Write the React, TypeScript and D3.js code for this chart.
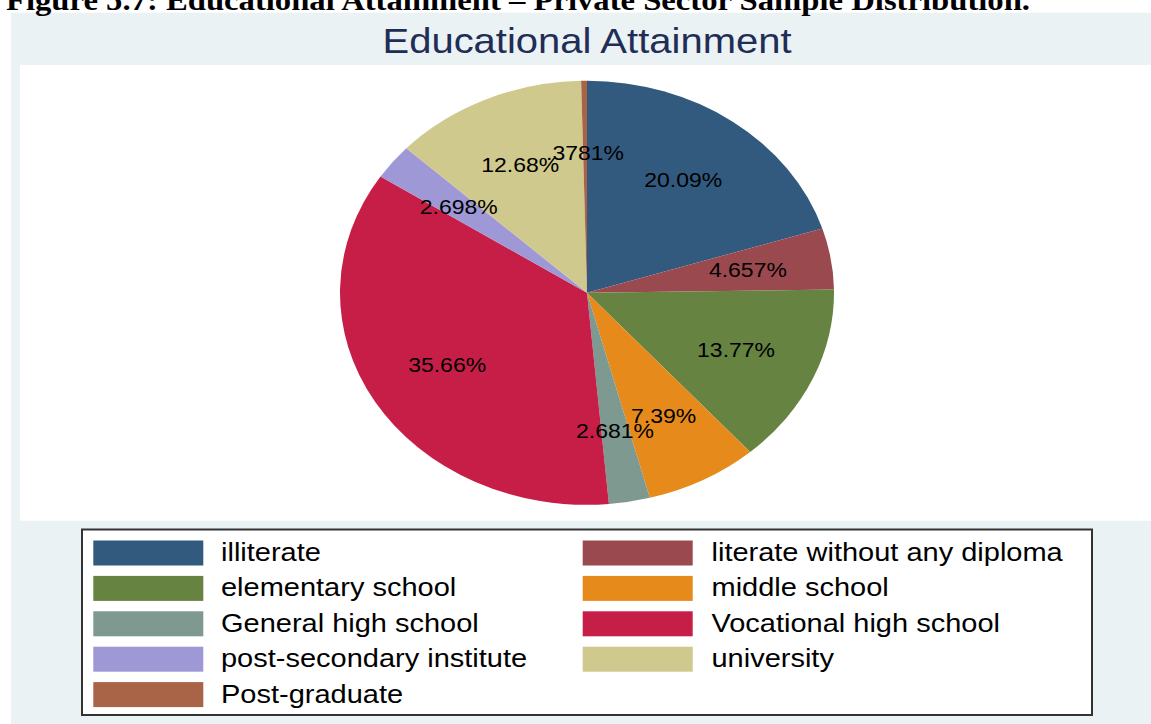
import React from "react";
import * as d3 from "d3";

const categories = [
  "illiterate",
  "literate without any diploma",
  "elementary school",
  "middle school",
  "General high school",
  "Vocational high school",
  "post-secondary institute",
  "university",
  "Post-graduate",
];
const values = [20.09, 4.657, 13.77, 7.39, 2.681, 35.66, 2.698, 12.68, 0.3781];
const labels = ["20.09%", "4.657%", "13.77%", "7.39%", "2.681%", "35.66%", "2.698%", "12.68%", ".3781%"];
const colors = ["#325a7e", "#9a4a4f", "#668342", "#e68a1c", "#7e998f", "#c71e47", "#9e98d6", "#cfc98d", "#a96346"];

const W = 1151;
const H = 724;
const SY = 0.86;
const SANS = "'Liberation Sans', Arial, Helvetica, sans-serif";

export default function App() {
  const cx = 587;
  const cy = 292.8;
  const rx = 247;
  const ry = 212;
  const pie = d3.pie<number>().sort(null).value((d) => d)(values);
  const arc = d3.arc<d3.PieArcDatum<number>>().innerRadius(0).outerRadius(rx);
  const lr = 0.66 * rx;
  const labelArc = d3.arc<d3.PieArcDatum<number>>().innerRadius(lr).outerRadius(lr);

  const legX = [93.3, 582.7];
  const legTextX = [221, 711.5];
  const rowTop = 540.5;
  const rowPitch = 35.4;

  return (
    <svg width={W} height={H} style={{ position: "absolute", left: 0, top: 0 }} xmlns="http://www.w3.org/2000/svg">
      <rect x={0} y={0} width={W} height={H} fill="#ffffff" />
      <rect x={11} y={12.7} width={W - 11} height={H - 12.7} fill="#eaf2f3" />
      <text
        transform={`translate(6,10) scale(1,${SY})`}
        fontFamily="'Liberation Serif', 'Times New Roman', serif"
        fontWeight="bold"
        fontSize={34}
        textLength={1024}
        lengthAdjust="spacingAndGlyphs"
        fill="#000"
      >
        Figure 5.7: Educational Attainment – Private Sector Sample Distribution.
      </text>
      <text
        transform={`translate(587,53) scale(1,${SY})`}
        textAnchor="middle"
        fontFamily={SANS}
        fontSize={40}
        fill="#1f2d57"
      >
        Educational Attainment
      </text>
      <rect x={20} y={65} width={W - 20} height={455.7} fill="#ffffff" />
      <g transform={`translate(${cx},${cy}) scale(1,${ry / rx})`}>
        {pie.map((p, i) => (
          <path key={i} d={arc(p) || ""} fill={colors[i]} />
        ))}
      </g>
      {pie.map((p, i) => {
        const [lx, ly] = labelArc.centroid(p);
        const x = cx + lx;
        const y = cy + ly * (ry / rx);
        return (
          <text
            key={i}
            transform={`translate(${x},${y}) scale(1,${SY})`}
            textAnchor="middle"
            dy="0.36em"
            fontFamily={SANS}
            fontSize={23}
            fill="#000"
          >
            {labels[i]}
          </text>
        );
      })}
      <rect x={82} y={529.5} width={1010} height={185.5} fill="#ffffff" stroke="#333333" strokeWidth={2} />
      {categories.map((c, i) => {
        const col = i % 2;
        const row = Math.floor(i / 2);
        const top = rowTop + row * rowPitch;
        return (
          <g key={c}>
            <rect x={legX[col]} y={top} width={110} height={25} fill={colors[i]} />
            <text
              transform={`translate(${legTextX[col]},${top + 20.5}) scale(1,${SY})`}
              fontFamily={SANS}
              fontSize={29}
              fill="#000"
            >
              {c}
            </text>
          </g>
        );
      })}
    </svg>
  );
}
